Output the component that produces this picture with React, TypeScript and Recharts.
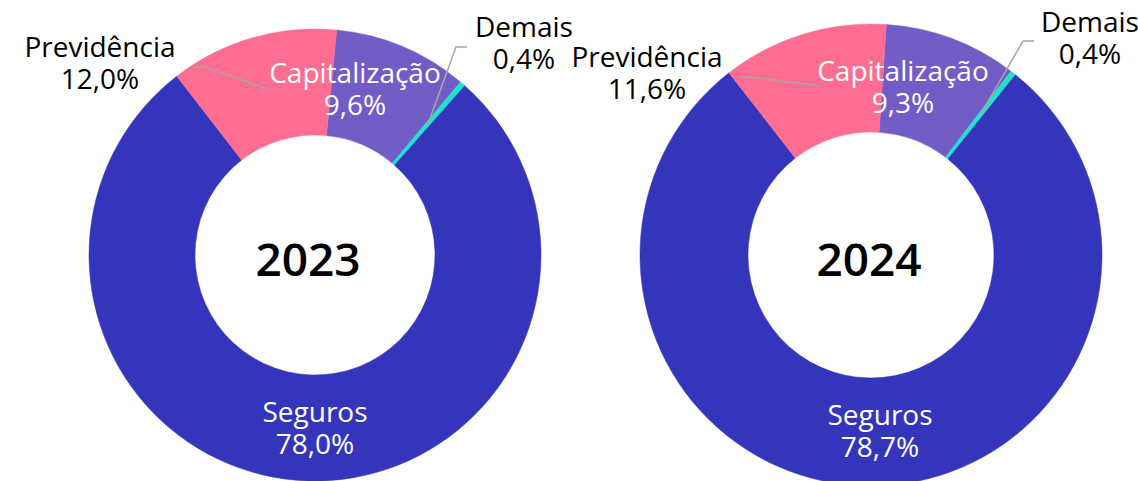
import React from 'react';
import { PieChart, Pie, Cell } from 'recharts';

// ---- data ----
const categories = ['Capitalização', 'Demais', 'Seguros', 'Previdência'];
const values2023 = [9.6, 0.4, 78.0, 12.0];
const values2024 = [9.3, 0.4, 78.7, 11.6];
const years = ['2023', '2024'];

// ---- styles ----
const COLORS: Record<string, string> = {
  'Capitalização': '#725CC6',
  'Demais': '#1EE3CF',
  'Seguros': '#3535BC',
  'Previdência': '#FF6E90',
};
const FONT = '"Open Sans", "Noto Sans", sans-serif';
const LABEL_SIZE = 28;
const LINE_GAP = 32;

type Place = { dx: number; dy: number; color: string; leader?: [number, number][] };

const placement2023: Record<string, Place> = {
  'Previdência': { dx: -215, dy: -198, color: '#000', leader: [[-120, -188], [-110, -188]] },
  'Capitalização': { dx: 40, dy: -172, color: '#fff' },
  'Demais': { dx: 209, dy: -218, color: '#000', leader: [[152, -208], [141, -208]] },
  'Seguros': { dx: 0, dy: 167, color: '#fff' },
};
const placement2024: Record<string, Place> = {
  'Previdência': { dx: -224, dy: -188, color: '#000', leader: [[-132, -178], [-122, -178]] },
  'Capitalização': { dx: 32, dy: -174, color: '#fff' },
  'Demais': { dx: 219, dy: -223, color: '#000', leader: [[163, -214], [152, -214]] },
  'Seguros': { dx: 9, dy: 170, color: '#fff' },
};

const fmt = (v: number) => v.toFixed(1).replace('.', ',') + '%';

const buildData = (vals: number[]) => categories.map((name, i) => ({ name, value: vals[i] }));

const makeLabel = (place: Record<string, Place>, year: string, yearDx: number) => (props: any) => {
  const { cx, cy, midAngle, innerRadius, outerRadius, index } = props;
  const name: string = props.name ?? props.payload?.name;
  const value: number = props.value ?? props.payload?.value;
  const p = place[name];
  if (!p) return null;
  const RAD = Math.PI / 180;
  const midR = (innerRadius + outerRadius) / 2;
  const mx = cx + midR * Math.cos(-midAngle * RAD);
  const my = cy + midR * Math.sin(-midAngle * RAD);
  const x = cx + p.dx;
  const y = cy + p.dy;
  let leaderPath = '';
  if (p.leader) {
    leaderPath = p.leader.map((pt, i) => `${i === 0 ? 'M' : 'L'}${cx + pt[0]},${cy + pt[1]}`).join(' ') + ` L${mx},${my}`;
  }
  return (
    <g key={`lbl-${year}-${name}`}>
      {leaderPath && <path d={leaderPath} stroke="#A6A6A6" strokeWidth={1.5} fill="none" />}
      <text x={x} y={y} textAnchor="middle" fill={p.color} fontFamily={FONT} fontSize={LABEL_SIZE}>
        {name}
      </text>
      <text x={x} y={y + LINE_GAP} textAnchor="middle" fill={p.color} fontFamily={FONT} fontSize={LABEL_SIZE}>
        {fmt(value)}
      </text>
      {index === 0 && (
        <text x={cx + yearDx} y={cy + 21} textAnchor="middle" fill="#000" fontFamily={FONT} fontSize={46} fontWeight={600}>
          {year}
        </text>
      )}
    </g>
  );
};

export default function App() {
  const d2023 = buildData(values2023);
  const d2024 = buildData(values2024);
  const start2023 = 90 - 5.5;
  const start2024 = 90 - 3.8;
  return (
    <div style={{ position: 'absolute', left: 0, top: 0, width: 1138, height: 481, background: '#fff' }}>
      <PieChart width={1138} height={481}>
        <Pie
          data={d2023}
          dataKey="value"
          nameKey="name"
          cx={310}
          cy={250}
          innerRadius={120}
          outerRadius={226}
          startAngle={start2023}
          endAngle={start2023 - 360}
          isAnimationActive={false}
          labelLine={false}
          label={makeLabel(placement2023, years[0], -7)}
        >
          {d2023.map((e) => (
            <Cell key={e.name} fill={COLORS[e.name]} stroke={COLORS[e.name]} strokeWidth={0.5} />
          ))}
        </Pie>
        <Pie
          data={d2024}
          dataKey="value"
          nameKey="name"
          cx={866}
          cy={250}
          innerRadius={123}
          outerRadius={231}
          startAngle={start2024}
          endAngle={start2024 - 360}
          isAnimationActive={false}
          labelLine={false}
          label={makeLabel(placement2024, years[1], -2)}
        >
          {d2024.map((e) => (
            <Cell key={e.name} fill={COLORS[e.name]} stroke={COLORS[e.name]} strokeWidth={0.5} />
          ))}
        </Pie>
      </PieChart>
    </div>
  );
}
